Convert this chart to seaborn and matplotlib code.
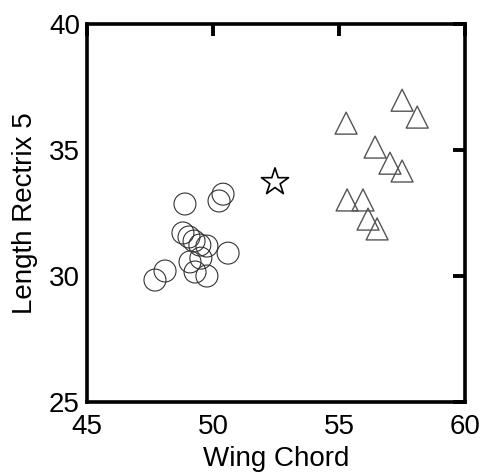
import numpy as np
import pandas as pd
import matplotlib
matplotlib.use("Agg")
import matplotlib.pyplot as plt
import seaborn as sns

# circles (group A)
circ_x = [48.89, 50.24, 50.40, 48.81, 49.05, 49.25, 49.48, 49.76, 50.60,
          49.09, 49.52, 49.29, 49.76, 48.10, 47.70]
circ_y = [32.86, 32.98, 33.25, 31.71, 31.55, 31.39, 31.23, 31.19, 30.91,
          30.56, 30.71, 30.16, 30.00, 30.20, 29.84]

# triangles (group B)
tri_x = [57.50, 58.10, 55.28, 56.43, 57.02, 57.50, 55.32, 55.95, 56.15, 56.51]
tri_y = [36.98, 36.31, 36.07, 35.12, 34.48, 34.17, 33.02, 33.02, 32.26, 31.87]

# the single unknown bird
star_x = [52.46]
star_y = [33.73]

sns.set_style("white")
plt.rcParams['font.family'] = ['Liberation Sans', 'DejaVu Sans']
plt.rcParams['text.color'] = 'black'
plt.rcParams['axes.labelcolor'] = 'black'
plt.rcParams['xtick.color'] = 'black'
plt.rcParams['ytick.color'] = 'black'

fig = plt.figure(figsize=(4.8, 4.74), dpi=100)
ax = fig.add_axes([0.181, 0.152, 0.788, 0.797])

sns.scatterplot(x=circ_x, y=circ_y, marker='o', s=250, facecolor='none',
                edgecolor='#333333', linewidth=0.8, ax=ax)
sns.scatterplot(x=tri_x, y=tri_y, marker='^', s=250, facecolor='none',
                edgecolor='#555555', linewidth=1.0, ax=ax)
sns.scatterplot(x=star_x, y=star_y, marker='*', s=420, facecolor='none',
                edgecolor='black', linewidth=1.2, ax=ax)

ax.set_xlim(45, 60)
ax.set_ylim(25, 40)
ax.set_xticks([45, 50, 55, 60])
ax.set_yticks([25, 30, 35, 40])
ax.tick_params(direction='in', length=8.5, width=2.8, labelsize=20,
               top=True, right=True)
ax.tick_params(axis='x', pad=9)
ax.tick_params(axis='y', pad=5)
for sp in ax.spines.values():
    sp.set_linewidth(2.6)
    sp.set_color('black')

ax.set_xlabel('Wing Chord', fontsize=20, labelpad=4)
ax.set_ylabel('Length Rectrix 5', fontsize=20, labelpad=8)

fig.savefig('out.png', dpi=100)
